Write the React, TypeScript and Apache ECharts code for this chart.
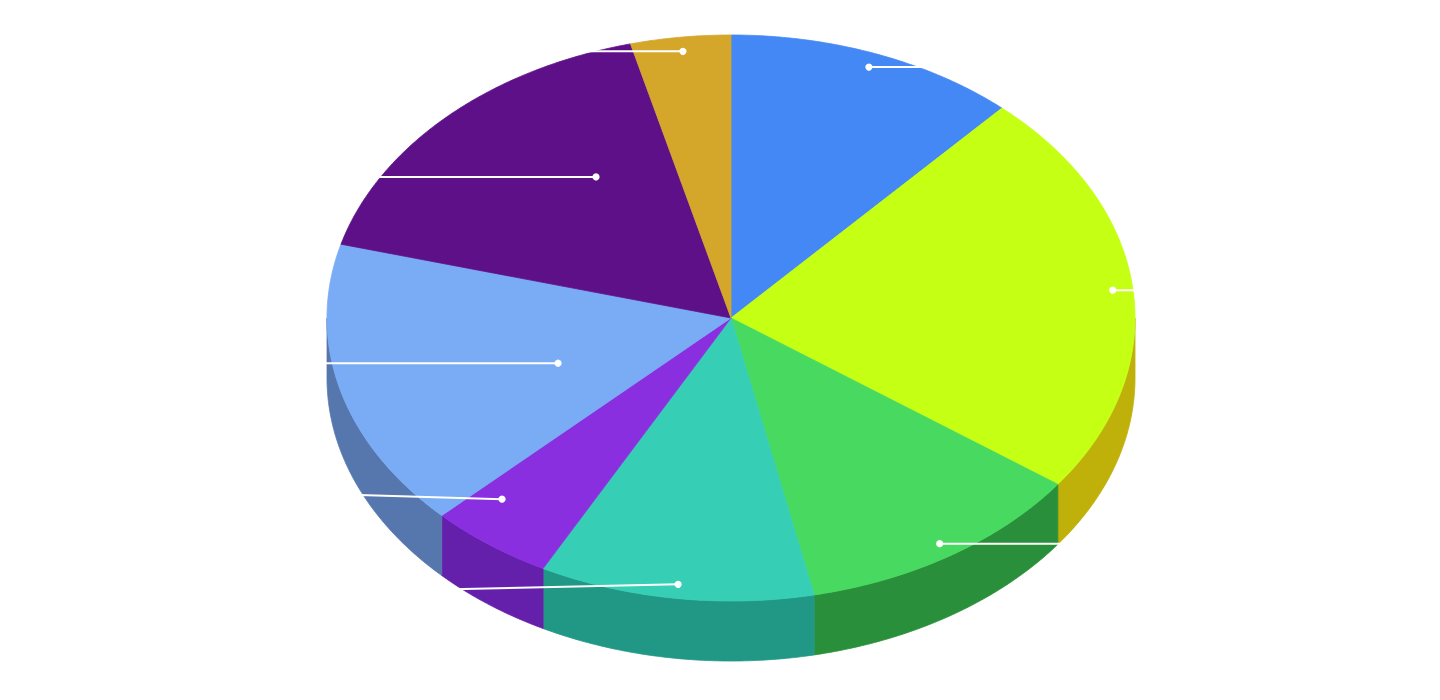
import React, { useEffect, useRef } from "react";
import * as echarts from "echarts";

// Slice values (share of the whole), clockwise from 12 o'clock
const VALUES: number[] = [11.7, 23.3, 11.7, 11, 5, 16.5, 16.8, 4];
const TOP_COLORS: string[] = ["#4488f5", "#c5ff14", "#48d960", "#36cfb5", "#8a2fe0", "#7aabf5", "#5e1088", "#d4a72b"];
const SIDE_COLORS: string[] = ["#3060b0", "#bfb00a", "#298f3a", "#219885", "#6420aa", "#5677ad", "#400a60", "#a07a18"];
// connector start: radius factor and angle shift (degrees) from the slice's mid-angle
const DOT_RADIUS: number[] = [0.95, 0.95, 0.95, 0.95, 0.855, 0.457, 0.6, 0.95];
const DOT_SHIFT: number[] = [0, 0, 0, 0, 4.8, -5.9, 10.8, 0];
// vertical drift of the (hidden) label connectors toward their label anchor
const LABEL_NUDGE: number[] = [0, 0, 0, 9, -7, 0, 0, 0];

// layout
const CX = 731;
const CY = 318;
const RX = 404;
const RY = 283;
const DEPTH = 60;
const LABEL_GAP = 60;

export default function App() {
  const ref = useRef<HTMLDivElement>(null);

  useEffect(() => {
    if (!ref.current) return;
    const chart = echarts.init(ref.current, null, { renderer: "svg" });
    const total = VALUES.reduce((s, v) => s + v, 0);
    const TAU = Math.PI * 2;
    const pt = (t: number, r = 1, dy = 0) => [CX + RX * r * Math.sin(t), CY - RY * r * Math.cos(t) + dy];
    const arc = (a: number, b: number, dy = 0) => {
      const steps = Math.max(2, Math.ceil((b - a) / (Math.PI / 360)));
      const out: number[][] = [];
      for (let j = 0; j <= steps; j++) out.push(pt(a + ((b - a) * j) / steps, 1, dy));
      return out;
    };

    const option: any = {
      animation: false,
      backgroundColor: "#ffffff",
      series: [
        {
          type: "custom",
          coordinateSystem: "none",
          silent: true,
          data: VALUES.map((v, i) => [v, i]),
          renderItem: (params: any, api: any) => {
            const i = params.dataIndex;
            let before = 0;
            for (let k = 0; k < i; k++) before += VALUES[k];
            const v = api.value(0);
            const a0 = (before / total) * TAU;
            const a1 = ((before + v) / total) * TAU;
            const children: any[] = [];

            // outer side wall (front half only)
            const s = Math.max(a0, Math.PI / 2);
            const e = Math.min(a1, (Math.PI * 3) / 2);
            if (e > s) {
              const topArc = arc(s, e);
              const botArc = arc(s, e, DEPTH).reverse();
              children.push({
                type: "polygon",
                z2: 1,
                shape: { points: topArc.concat(botArc) },
                style: { fill: SIDE_COLORS[i], stroke: SIDE_COLORS[i], lineWidth: 0.8 },
              });
            }

            // top face
            children.push({
              type: "polygon",
              z2: 2,
              shape: { points: [[CX, CY]].concat(arc(a0, a1)) },
              style: { fill: TOP_COLORS[i], stroke: TOP_COLORS[i], lineWidth: 0.8 },
            });

            // connector + dot
            const mid = (a0 + a1) / 2;
            const d = pt(mid + (DOT_SHIFT[i] * Math.PI) / 180, DOT_RADIUS[i]);
            const right = Math.sin(mid) >= 0;
            const endX = right ? CX + RX + LABEL_GAP : CX - RX - LABEL_GAP;
            const endY = d[1] + LABEL_NUDGE[i];
            children.push({
              type: "polyline",
              z2: 10,
              shape: { points: [d, [endX, endY]] },
              style: { stroke: "#ffffff", lineWidth: 2, fill: null },
            });
            children.push({
              type: "circle",
              z2: 11,
              shape: { cx: d[0], cy: d[1], r: 3.6 },
              style: { fill: "#ffffff" },
            });

            return { type: "group", children };
          },
        },
      ],
    };
    chart.setOption(option);
    return () => chart.dispose();
  }, []);

  return <div ref={ref} style={{ position: "fixed", left: 0, top: 0, width: 1440, height: 700 }} />;
}
